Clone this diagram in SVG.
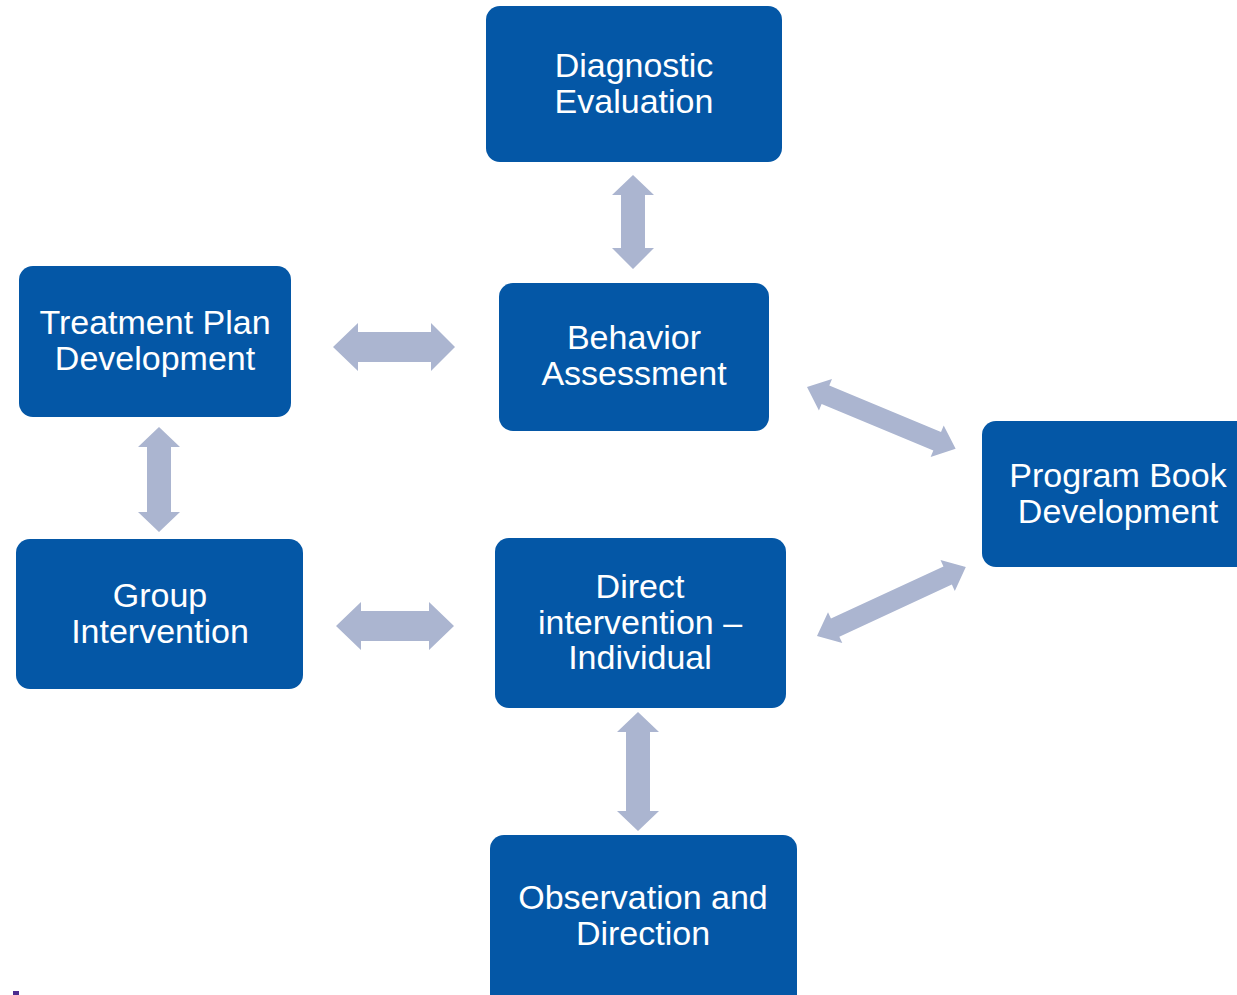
<svg xmlns="http://www.w3.org/2000/svg" width="1237" height="995" viewBox="0 0 1237 995">
<style>
.box{fill:#0457A6;}
.lbl{font-family:"Liberation Sans",Arial,sans-serif;font-size:34px;fill:#ffffff;text-anchor:middle;}
.arr{fill:#ABB5D0;}
</style>
<rect width="1237" height="995" fill="#ffffff"/>
<g id="connectors">
<polygon class="arr" points="333,347 358,323 358,332 431,332 431,323 455,347 431,371 431,362 358,362 358,371"/>
<polygon class="arr" points="336,626 361,602 361,611 429,611 429,602 454,626 429,650 429,641 361,641 361,650"/>
<polygon class="arr" points="633,175 654,195 645,195 645,248 654,248 633,269 612,248 621,248 621,195 612,195"/>
<polygon class="arr" points="159,427 180,447 171,447 171,512 180,512 159,532 138,512 147,512 147,447 138,447"/>
<polygon class="arr" points="638,712 659,732 650,732 650,811 659,811 638,831 617,811 626,811 626,732 617,732"/>
<g transform="translate(807,387) rotate(22.6)"><polygon class="arr" points="0,0 20,-17 20,-10 141,-10 141,-17 161,0 141,17 141,10 20,10 20,17"/></g>
<g transform="translate(817,636) rotate(-24.85)"><polygon class="arr" points="0,0 20,-17 20,-10 144,-10 144,-17 164,0 144,17 144,10 20,10 20,17"/></g>
</g>
<g id="diagnostic">
<rect class="box" x="486" y="6" width="296" height="156" rx="14"/>
<text class="lbl" x="634" y="77">Diagnostic</text>
<text class="lbl" x="634" y="113">Evaluation</text>
</g>
<g id="behavior">
<rect class="box" x="499" y="283" width="270" height="148" rx="14"/>
<text class="lbl" x="634" y="349">Behavior</text>
<text class="lbl" x="634" y="385">Assessment</text>
</g>
<g id="treatment">
<rect class="box" x="19" y="266" width="272" height="151" rx="14"/>
<text class="lbl" x="155" y="334">Treatment Plan</text>
<text class="lbl" x="155" y="370">Development</text>
</g>
<g id="group">
<rect class="box" x="16" y="539" width="287" height="150" rx="14"/>
<text class="lbl" x="160" y="607">Group</text>
<text class="lbl" x="160" y="643">Intervention</text>
</g>
<g id="direct">
<rect class="box" x="495" y="538" width="291" height="170" rx="14"/>
<text class="lbl" x="640" y="598">Direct</text>
<text class="lbl" x="640" y="634">intervention –</text>
<text class="lbl" x="640" y="669">Individual</text>
</g>
<g id="program">
<rect class="box" x="982" y="421" width="275" height="146" rx="14"/>
<text class="lbl" x="1118" y="487">Program Book</text>
<text class="lbl" x="1118" y="523">Development</text>
</g>
<g id="observation">
<rect class="box" x="490" y="835" width="307" height="175" rx="14"/>
<text class="lbl" x="643" y="909">Observation and</text>
<text class="lbl" x="643" y="945">Direction</text>
</g>
<rect x="13" y="991" width="6" height="4" fill="#4B2C8F"/>
</svg>
